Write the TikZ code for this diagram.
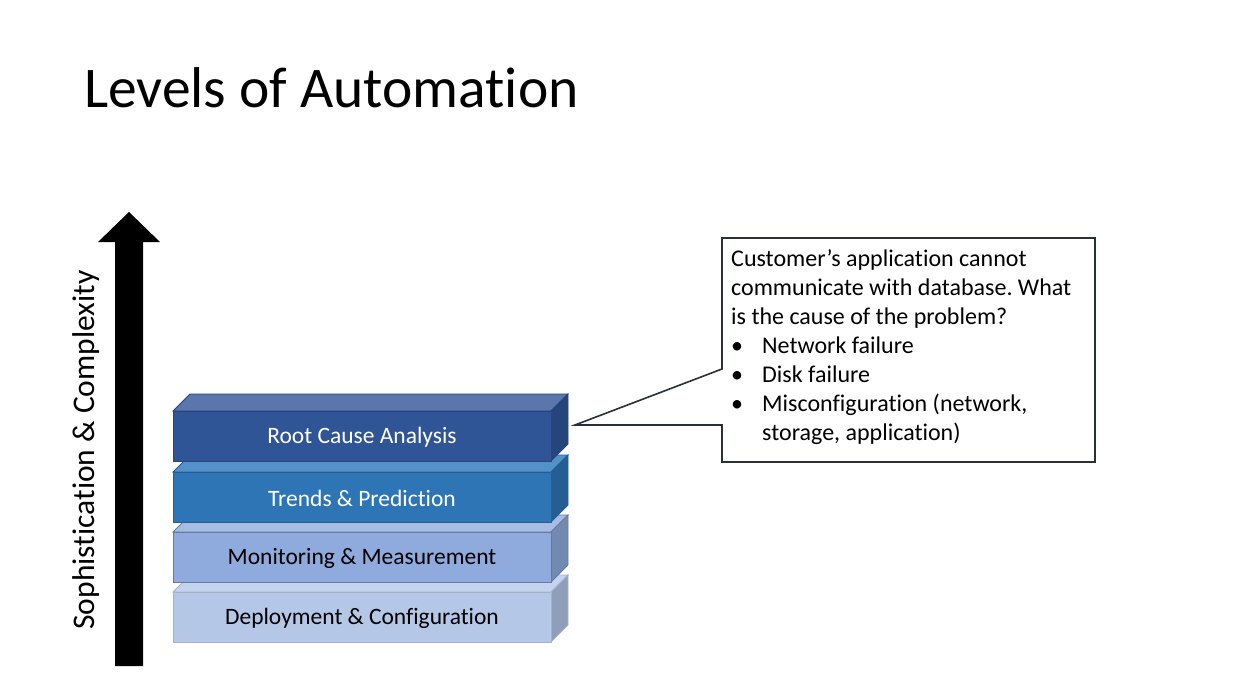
\documentclass[tikz,border=0pt]{standalone}
\usepackage{fontspec}
\setmainfont{Carlito}[Ligatures={NoCommon}]
\frenchspacing
\definecolor{rcaF}{HTML}{2F5597}
\definecolor{rcaT}{HTML}{5A76AC}
\definecolor{rcaS}{HTML}{26457A}
\definecolor{trdF}{HTML}{2E75B6}
\definecolor{trdT}{HTML}{5591C9}
\definecolor{trdS}{HTML}{255E93}
\definecolor{monF}{HTML}{8FAADC}
\definecolor{monT}{HTML}{A7BCE3}
\definecolor{monS}{HTML}{7289B0}
\definecolor{depF}{HTML}{B4C7E7}
\definecolor{depT}{HTML}{C5D4EE}
\definecolor{depS}{HTML}{909FB9}
\definecolor{calloutline}{HTML}{2B3036}
% one level of the stack: front face top y, then front/top/side/edge colours
\newcommand{\levelblock}[5]{%
  \filldraw[fill=#3,draw=#5,line width=0.8] (173,#1) -- (190,#1-17) -- (568,#1-17) -- (551,#1) -- cycle;
  \filldraw[fill=#4,draw=#5,line width=0.8] (551,#1) -- (568,#1-17) -- (568,#1+33) -- (551,#1+50) -- cycle;
  \filldraw[fill=#2,draw=#5,line width=0.8] (173,#1) rectangle (551,#1+50);
}
\tikzset{
  levellabel/.style={font=\fontsize{23.5}{28}\selectfont, inner sep=0pt},
  callouttext/.style={font=\fontsize{24}{29}\selectfont, align=left, anchor=base west, inner sep=0pt}
}
\begin{document}
\begin{tikzpicture}[x=1pt,y=-1pt]
\useasboundingbox[fill=white] (0,0) rectangle (1248,693);

% title
\node[anchor=base west, inner sep=0pt, font=\fontsize{57.5}{64}\selectfont] (title) at (84,107) {Levels of Automation};

% upward arrow
\fill[black] (115,666) -- (115,242) -- (98,242) -- (129,212) -- (160,242) -- (143,242) -- (143,666) -- cycle;
\node[rotate=90, inner sep=0pt, font=\fontsize{31.5}{36}\selectfont] (axis) at (86,450) {Sophistication \& Complexity};

% stacked levels, bottom first
\levelblock{592}{depF}{depT}{depS}{depS!80!white}
\levelblock{532}{monF}{monT}{monS}{monS!90!black}
\levelblock{472}{trdF}{trdT}{trdS}{trdS}
\levelblock{411}{rcaF}{rcaT}{rcaS}{rcaS}

\node[levellabel, text=black] (dep) at (362,618) {Deployment \& Configuration};
\node[levellabel, text=black] (mon) at (362,558) {Monitoring \& Measurement};
\node[levellabel, text=white] (trd) at (362,498) {Trends \& Prediction};
\node[levellabel, text=white] (rca) at (362,437) {Root Cause Analysis};

% callout pointing at the top level
\coordinate (tip) at (575,425);
\filldraw[fill=white, draw=calloutline, line width=1.6, line join=miter]
  (722,238) -- (1095,238) -- (1095,462) -- (722,462) -- (722,425) -- (tip) -- (722,369) -- cycle;
% the base anchor of this multi-line node sits on its last line
\node[callouttext] (note) at (731,440) {%
Customer’s application cannot\\
communicate with database. What\\
is the cause of the problem?\\
\makebox[31pt][l]{•}Network failure\\
\makebox[31pt][l]{•}Disk failure\\
\makebox[31pt][l]{•}Misconfiguration (network,\\
\hspace{31pt}storage, application)};
\end{tikzpicture}
\end{document}
